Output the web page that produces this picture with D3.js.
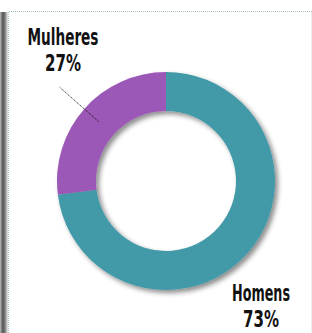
<!DOCTYPE html>
<html>
<head>
<meta charset="utf-8">
<script src="https://cdn.jsdelivr.net/npm/d3@7"></script>
<style>
  body { margin: 0; background: #fff; }
  svg { display: block; }
  .lbl { font-family: "Liberation Sans Narrow", "DejaVu Sans Condensed", sans-serif; font-weight: bold; fill: #111; }
</style>
</head>
<body>
<div id="chart"></div>
<script>
const categories = ['Homens', 'Mulheres'];
const values = [73, 27];
const colors = ['#4399a8', '#9b59b6'];

const width = 312;
const height = 333;
const cx = 166;
const cy = 181;
const outerR = 109;
const innerR = 70;

const svg = d3.select('#chart')
    .append('svg')
    .attr('width', width)
    .attr('height', height);

// page shadow on the left edge
const defs = svg.append('defs');
const grad = defs.append('linearGradient').attr('id', 'edge');
grad.append('stop').attr('offset', '0%').attr('stop-color', '#bbb');
grad.append('stop').attr('offset', '35%').attr('stop-color', '#555');
grad.append('stop').attr('offset', '60%').attr('stop-color', '#777');
grad.append('stop').attr('offset', '100%').attr('stop-color', '#eee');

const shadow = defs.append('filter').attr('id', 'shadow')
    .attr('x', '-20%').attr('y', '-20%').attr('width', '140%').attr('height', '140%');
shadow.append('feDropShadow')
    .attr('dx', 3).attr('dy', 3).attr('stdDeviation', 2.5)
    .attr('flood-color', '#000').attr('flood-opacity', 0.45);

svg.append('rect')
    .attr('x', 0).attr('y', 12).attr('width', 8).attr('height', height - 12)
    .attr('fill', 'url(#edge)');

// dotted frame
svg.append('path')
    .attr('d', `M8.5,${height} V11.5 H${width}`)
    .attr('fill', 'none')
    .attr('stroke', '#a8bcc4')
    .attr('stroke-width', 1)
    .attr('stroke-dasharray', '1,1');

svg.append('line')
    .attr('x1', 311.5).attr('x2', 311.5).attr('y1', 12).attr('y2', height)
    .attr('stroke', '#eee');

const pie = d3.pie().sort(null).value((d) => d);
const arc = d3.arc().innerRadius(innerR).outerRadius(outerR);
const arcs = pie(values);

const g = svg.append('g')
    .attr('transform', `translate(${cx}, ${cy})`);

g.append('g')
    .attr('filter', 'url(#shadow)')
    .selectAll('path')
    .data(arcs)
    .enter()
    .append('path')
    .attr('d', arc)
    .attr('fill', (d, i) => colors[i]);

// leader line for Mulheres
const outerArc = d3.arc().innerRadius(142).outerRadius(142);
const p0 = arc.centroid(arcs[1]);
const p1 = outerArc.centroid(arcs[1]);
g.append('line')
    .attr('x1', p0[0]).attr('y1', p0[1])
    .attr('x2', p1[0]).attr('y2', p1[1])
    .attr('stroke', '#111')
    .attr('stroke-width', 1)
    .attr('stroke-dasharray', '1,1');

// labels: squeeze each line to the condensed width of the original
function squeezed(str, x, y, w) {
    const grp = svg.append('g');
    const t = grp.append('text')
        .attr('class', 'lbl')
        .attr('text-anchor', 'middle')
        .attr('font-size', 23)
        .text(str);
    const s = w / t.node().getComputedTextLength();
    grp.attr('transform', `translate(${x}, ${y}) scale(${s}, 1)`);
}

const labelPos = [[261, 301], [63, 45]];
const labelW = [58, 71];
categories.forEach((c, i) => {
    squeezed(c, labelPos[i][0], labelPos[i][1], labelW[i]);
    squeezed(`${values[i]}%`, labelPos[i][0], labelPos[i][1] + 26, 36);
});
</script>
</body>
</html>
